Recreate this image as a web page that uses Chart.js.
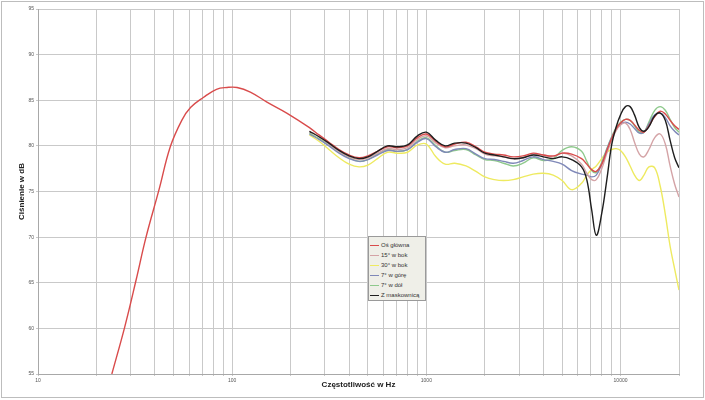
<!DOCTYPE html>
<html>
<head>
<meta charset="utf-8">
<script src="https://cdn.jsdelivr.net/npm/chart.js@4"></script>
<style>
  html, body { margin: 0; padding: 0; background: #fff; }
  #wrap { position: relative; width: 705px; height: 400px; }
  #legend {
    position: absolute; left: 368px; top: 236px; width: 58px; height: 65px;
    background: #efefe8; border: 1px solid #9a9a9a; box-sizing: border-box;
    font-family: "Liberation Sans", Arial, sans-serif; font-size: 6px; color: #333;
    padding-top: 3px;
  }
  #legend .it { display: flex; align-items: center; height: 10px; white-space: nowrap; }
  #legend .sw { display: inline-block; width: 9px; height: 0; border-top: 1.5px solid; margin: 0 2px 0 1px; }
</style>
</head>
<body>
<div id="wrap">
  <canvas id="c" width="705" height="400"></canvas>
  <div id="legend"></div>
</div>
<script>
// ---------- data ----------
const seriesNames = ["Oś główna", "15° w bok", "30° w bok", "7° w górę", "7° w dół", "Z maskownicą"];
const seriesColors = ["#d94b4b", "#d4a3a6", "#eeea60", "#7f88b8", "#8ec98c", "#1e1e1e"];

// low-frequency part (only main axis measured there)
const freqLow = [24, 28, 32, 36, 42, 48, 55, 61, 71, 83, 94, 106, 124, 151, 191];
const osGlownaLow = [55.0, 60.2, 65.3, 70.0, 75.2, 79.9, 82.8, 84.2, 85.3, 86.2, 86.4, 86.4, 85.9, 84.8, 83.6];

// common frequency grid 250 Hz .. 20 kHz
const freqs = [250, 280, 315, 355, 400, 450, 500, 560, 630, 710, 800, 900, 1000, 1120, 1250, 1400, 1600, 1800, 2000, 2240,
  2500, 2800, 3150, 3550, 4000, 4500, 5000, 5600, 6300, 6700, 7100, 7500, 8000, 8500, 9000, 9500, 10000, 10600, 11200,
  11800, 12500, 13200, 14000, 15000, 16000, 17000, 18000, 19000, 20000];

const osGlowna = [82.0, 81.2, 80.4, 79.6, 79.0, 78.7, 78.9, 79.4, 79.9, 79.8, 80.0, 80.9, 81.3, 80.5, 79.9, 80.2, 80.4, 79.9, 79.3, 79.1,
  79.0, 78.8, 78.9, 79.2, 79.0, 78.9, 79.2, 79.1, 78.6, 78.0, 77.4, 77.2, 78.0, 79.5, 80.8, 81.9, 82.5, 82.9, 82.8,
  82.3, 81.7, 81.5, 82.2, 83.2, 83.8, 83.5, 82.8, 82.2, 81.8];
const bok15 = [81.6, 81.0, 80.2, 79.4, 78.8, 78.5, 78.7, 79.2, 79.7, 79.6, 79.8, 80.7, 81.1, 80.3, 79.8, 80.0, 80.1, 79.7, 79.1, 78.9,
  78.8, 78.6, 78.7, 79.1, 79.0, 78.8, 79.2, 78.9, 78.0, 77.0, 76.3, 76.3, 77.5, 79.2, 80.6, 81.7, 82.3, 82.5, 81.8,
  80.4, 79.1, 78.8, 79.6, 80.9, 81.3, 80.2, 77.8, 75.8, 74.4];
const bok30 = [81.2, 80.5, 79.6, 78.7, 78.0, 77.7, 77.9, 78.6, 79.3, 79.2, 79.3, 80.1, 80.2, 78.8, 78.0, 78.1, 77.8, 77.2, 76.6, 76.3,
  76.2, 76.3, 76.6, 76.9, 77.0, 76.8, 76.2, 75.2, 75.9, 76.8, 77.4, 77.8, 78.6, 79.3, 79.6, 79.7, 79.5, 78.8, 77.8,
  76.8, 76.2, 76.8, 77.7, 77.6, 75.6, 72.5, 69.0, 66.5, 64.2];
const gora7 = [81.3, 80.7, 80.0, 79.2, 78.6, 78.3, 78.5, 79.0, 79.5, 79.4, 79.6, 80.4, 80.8, 79.9, 79.3, 79.6, 79.7, 79.1, 78.6, 78.5,
  78.3, 78.1, 78.4, 78.8, 78.5, 78.3, 78.0, 77.3, 76.9, 76.8, 76.6, 76.8, 78.0, 79.6, 80.9, 81.8, 82.4, 82.6, 82.4,
  81.9, 81.4, 81.5, 82.4, 83.4, 83.6, 83.1, 82.2, 81.6, 81.2];
const dol7 = [81.4, 80.8, 80.1, 79.3, 78.7, 78.3, 78.5, 79.1, 79.6, 79.4, 79.6, 80.5, 80.9, 80.0, 79.3, 79.5, 79.6, 79.0, 78.5, 78.4,
  78.1, 77.8, 78.1, 78.7, 78.4, 78.6, 79.5, 79.9, 79.4, 78.3, 77.3, 77.1, 78.2, 79.7, 81.0, 82.0, 82.6, 82.9, 82.8,
  82.2, 81.5, 81.5, 82.6, 83.9, 84.3, 83.9, 82.9, 82.0, 81.5];
const maskownica = [81.6, 81.0, 80.3, 79.5, 78.9, 78.6, 78.8, 79.4, 80.0, 79.9, 80.1, 81.1, 81.5, 80.6, 80.0, 80.3, 80.3, 79.8, 79.2, 79.0,
  78.8, 78.6, 78.7, 79.0, 78.8, 78.6, 78.8, 78.5, 77.7, 76.3, 73.0, 70.2, 72.6, 76.3, 80.1, 82.1, 83.4, 84.3, 84.3,
  83.4, 82.0, 81.6, 82.1, 83.3, 83.6, 82.8, 80.6, 78.7, 77.6];

const xGridValues = [10, 20, 30, 40, 50, 60, 70, 80, 90, 100, 200, 300, 400, 500, 600, 700, 800, 900,
  1000, 2000, 3000, 4000, 5000, 6000, 7000, 8000, 9000, 10000, 20000];
const xTickLabels = ["10", "100", "1000", "10000"];
const yTickValues = [55, 60, 65, 70, 75, 80, 85, 90, 95];

// ---------- build ----------
function pts(xs, ys) { return xs.map((x, i) => ({ x: x, y: ys[i] })); }
const allSeries = [
  pts(freqLow, osGlownaLow).concat(pts(freqs, osGlowna)),
  pts(freqs, bok15),
  pts(freqs, bok30),
  pts(freqs, gora7),
  pts(freqs, dol7),
  pts(freqs, maskownica)
];
const drawOrder = [1, 2, 5, 3, 4, 0];
const datasets = allSeries.map((d, i) => ({
  label: seriesNames[i],
  data: d,
  borderColor: seriesColors[i],
  backgroundColor: seriesColors[i],
  borderWidth: 1.4,
  pointRadius: 0,
  tension: 0.4,
  fill: false,
  order: drawOrder[i]
}));

const frame = {
  id: 'frame',
  afterDraw(chart) {
    const ctx = chart.ctx;
    ctx.save();
    ctx.strokeStyle = '#bdbdbd';
    ctx.lineWidth = 1;
    ctx.strokeRect(1.5, 1.5, 702, 396);
    ctx.restore();
  }
};

const FONT = "'Liberation Sans', Arial, sans-serif";
new Chart(document.getElementById('c'), {
  type: 'line',
  data: { datasets: datasets },
  plugins: [frame],
  options: {
    responsive: false,
    animation: false,
    layout: { padding: { left: 14, right: 26, top: 9, bottom: 8 } },
    plugins: { legend: { display: false }, tooltip: { enabled: false } },
    scales: {
      x: {
        type: 'logarithmic',
        min: 10, max: 20000,
        afterBuildTicks(scale) { scale.ticks = xGridValues.map(v => ({ value: v })); },
        afterFit(scale) { scale.height = 18; },
        grid: { color: '#c9c9c9', lineWidth: 1, tickLength: 2 },
        border: { color: '#a8a8a8' },
        ticks: {
          autoSkip: false, maxRotation: 0, padding: 2,
          font: { family: FONT, size: 5 }, color: '#555',
          callback(v) { const s = String(v); return xTickLabels.includes(s) ? s : ''; }
        },
        title: {
          display: true, text: 'Częstotliwość w Hz',
          font: { family: FONT, size: 8, weight: 'bold' }, color: '#222',
          padding: { top: 0, bottom: 2 }
        }
      },
      y: {
        min: 55, max: 95,
        afterBuildTicks(scale) { scale.ticks = yTickValues.map(v => ({ value: v })); },
        afterFit(scale) { scale.width = 24; },
        grid: { color: '#c9c9c9', lineWidth: 1, tickLength: 2 },
        border: { color: '#a8a8a8' },
        ticks: { padding: 2, font: { family: FONT, size: 5 }, color: '#555' },
        title: {
          display: true, text: 'Ciśnienie w dB',
          font: { family: FONT, size: 8, weight: 'bold' }, color: '#222',
          padding: { top: 3, bottom: 0 }
        }
      }
    }
  }
});

// legend as real text
const lg = document.getElementById('legend');
seriesNames.forEach((n, i) => {
  const it = document.createElement('div');
  it.className = 'it';
  const sw = document.createElement('span');
  sw.className = 'sw';
  sw.style.borderTopColor = seriesColors[i];
  const t = document.createElement('span');
  t.textContent = n;
  it.appendChild(sw); it.appendChild(t);
  lg.appendChild(it);
});
</script>
</body>
</html>
